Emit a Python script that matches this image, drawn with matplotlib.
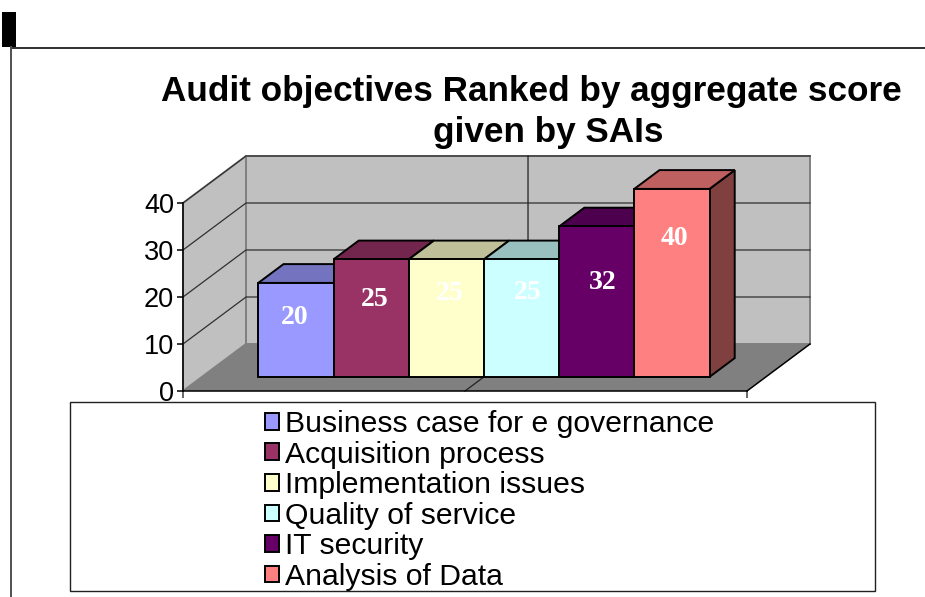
import matplotlib
matplotlib.use("Agg")
import matplotlib.pyplot as plt
from matplotlib.lines import Line2D
from matplotlib.patches import Patch, Polygon, Rectangle

plt.rcParams['font.family'] = ['Liberation Sans', 'DejaVu Sans']

objectives = ['Business case for e governance', 'Acquisition process', 'Implementation issues',
              'Quality of service', 'IT security', 'Analysis of Data']
scores = [20, 25, 25, 25, 32, 40]
y_ticks = [0, 10, 20, 30, 40]

face_colors = ['#9999FF', '#993366', '#FFFFCC', '#CCFFFF', '#660066', '#FF8080']
top_colors = ['#7373BF', '#73264D', '#BFBF99', '#99BFBF', '#4D004D', '#BF6060']
side_colors = ['#4D4D80', '#4D1A33', '#808066', '#668080', '#330033', '#804040']
# label nudges from the bar centre / top, in pixels
label_dx = [-1.5, 3.5, 3.5, 6, 6, 2.5]
label_dy = [-34.5, -40, -34, -33, -56, -50]

W, H = 925, 597
X_MAX = 7.5      # plot width in bar widths
GAP = 0.75
DEPTH_X = 0.838  # depth of the floor, in x units
DEPTH_Y = 10.0   # and in value units
BAR_FRONT, BAR_BACK = 0.3, 0.7


def fx(px):
    return px / W


def fy(py):
    return 1 - py / H


def proj(x, y, d):
    return (x + d * DEPTH_X, y + d * DEPTH_Y)


fig = plt.figure(figsize=(9.25, 5.97), dpi=100)
ax = fig.add_axes([fx(183), fy(391), fx(747) - fx(183), fy(203) - fy(391)])
ax.set_xlim(0, X_MAX)
ax.set_ylim(0, 40)
ax.patch.set_visible(False)

# walls and floor
wall_c, floor_c = '#C0C0C0', '#808080'
ax.add_patch(Polygon([proj(0, 0, 0), proj(0, 40, 0), proj(0, 40, 1), proj(0, 0, 1)], closed=True,
                     fc=wall_c, ec=floor_c, lw=1.4, clip_on=False, zorder=1))
ax.add_patch(Polygon([proj(0, 0, 1), proj(0, 40, 1), proj(X_MAX, 40, 1), proj(X_MAX, 0, 1)], closed=True,
                     fc=wall_c, ec=floor_c, lw=1.4, clip_on=False, zorder=1))
ax.add_patch(Polygon([proj(0, 0, 0), proj(0, 0, 1), proj(X_MAX, 0, 1), proj(X_MAX, 0, 0)], closed=True,
                     fc=floor_c, ec='none', clip_on=False, zorder=1))

# gridlines
for v in y_ticks[1:]:
    a, b, c = proj(0, v, 0), proj(0, v, 1), proj(X_MAX, v, 1)
    ax.plot([a[0], b[0], c[0]], [a[1], b[1], c[1]], color='#303030', lw=0.9, clip_on=False, zorder=2)
a, b, c = proj(X_MAX / 2, 0, 0), proj(X_MAX / 2, 0, 1), proj(X_MAX / 2, 40, 1)
ax.plot([a[0], b[0], c[0]], [a[1], b[1], c[1]], color='#202020', lw=0.9, clip_on=False, zorder=2)
a, b = proj(X_MAX, 0, 0), proj(X_MAX, 0, 1)
ax.plot([a[0], b[0]], [a[1], b[1]], color='black', lw=1.1, clip_on=False, zorder=2)

# bars
for i, val in enumerate(scores):
    x0 = GAP + i
    x1 = x0 + 1
    top = [proj(x0, val, BAR_FRONT), proj(x0, val, BAR_BACK), proj(x1, val, BAR_BACK), proj(x1, val, BAR_FRONT)]
    side = [proj(x1, 0, BAR_FRONT), proj(x1, val, BAR_FRONT), proj(x1, val, BAR_BACK), proj(x1, 0, BAR_BACK)]
    ax.add_patch(Polygon(side, closed=True, fc=side_colors[i], ec='black', lw=1.4, clip_on=False, zorder=3))
    ax.add_patch(Polygon(top, closed=True, fc=top_colors[i], ec='black', lw=1.4, clip_on=False, zorder=3))
    fx0, fy0 = proj(x0, 0, BAR_FRONT)
    ax.bar(fx0, val, width=1, bottom=fy0, align='edge', color=face_colors[i], edgecolor='black',
           linewidth=1.4, clip_on=False, zorder=3)

for i, val in enumerate(scores):
    cx, cy = proj(GAP + i + 0.5, val, BAR_FRONT)
    ax.annotate(str(val), (cx, cy), xytext=(label_dx[i] * 0.72, label_dy[i] * 0.72), textcoords='offset points',
                ha='center', va='center', color='white', fontsize=20, fontweight='bold',
                family='Liberation Serif', zorder=6, annotation_clip=False)

# axes
for s in ['top', 'right']:
    ax.spines[s].set_visible(False)
for s in ['left', 'bottom']:
    ax.spines[s].set_linewidth(1.1)
    ax.spines[s].set_zorder(4)
ax.set_yticks(y_ticks)
ax.set_xticks([0, X_MAX])
ax.set_xticklabels([])
ax.tick_params(axis='y', labelsize=19.5, length=4, width=1.1, pad=2.5)
ax.tick_params(axis='x', length=5, width=1.1, color='#404040')

# titles
fig.text(fx(531), fy(91), 'Audit objectives Ranked by aggregate score', ha='center', va='center',
         fontsize=25.3, fontweight='bold')
fig.text(fx(548), fy(132), 'given by SAIs', ha='center', va='center', fontsize=25.3, fontweight='bold')

# legend box
fig.add_artist(Rectangle((fx(70), fy(591)), fx(875) - fx(70), fy(402) - fy(591), transform=fig.transFigure,
                         fc='white', ec='#202020', lw=1.0, zorder=5))
handles = [Patch(facecolor=c, edgecolor='black', linewidth=1.4) for c in face_colors]
leg = fig.legend(handles, objectives, loc='upper left', bbox_to_anchor=(fx(265), fy(410)),
                 bbox_transform=fig.transFigure, frameon=False, fontsize=21.7, borderpad=0, borderaxespad=0,
                 handlelength=0.48, handleheight=0.48, handletextpad=0.2, labelspacing=0.085)
leg.set_zorder(6)

# page frame from the slide
fig.add_artist(Rectangle((fx(2), fy(47)), fx(14), fy(12) - fy(47), transform=fig.transFigure,
                         fc='black', ec='none'))
fig.add_artist(Line2D([fx(11), fx(925)], [fy(47.5), fy(47.5)], color='#303030', lw=1.4))
fig.add_artist(Line2D([fx(11), fx(11)], [fy(47), fy(597)], color='#505050', lw=1.4))

plt.savefig('out.png', dpi=100)
